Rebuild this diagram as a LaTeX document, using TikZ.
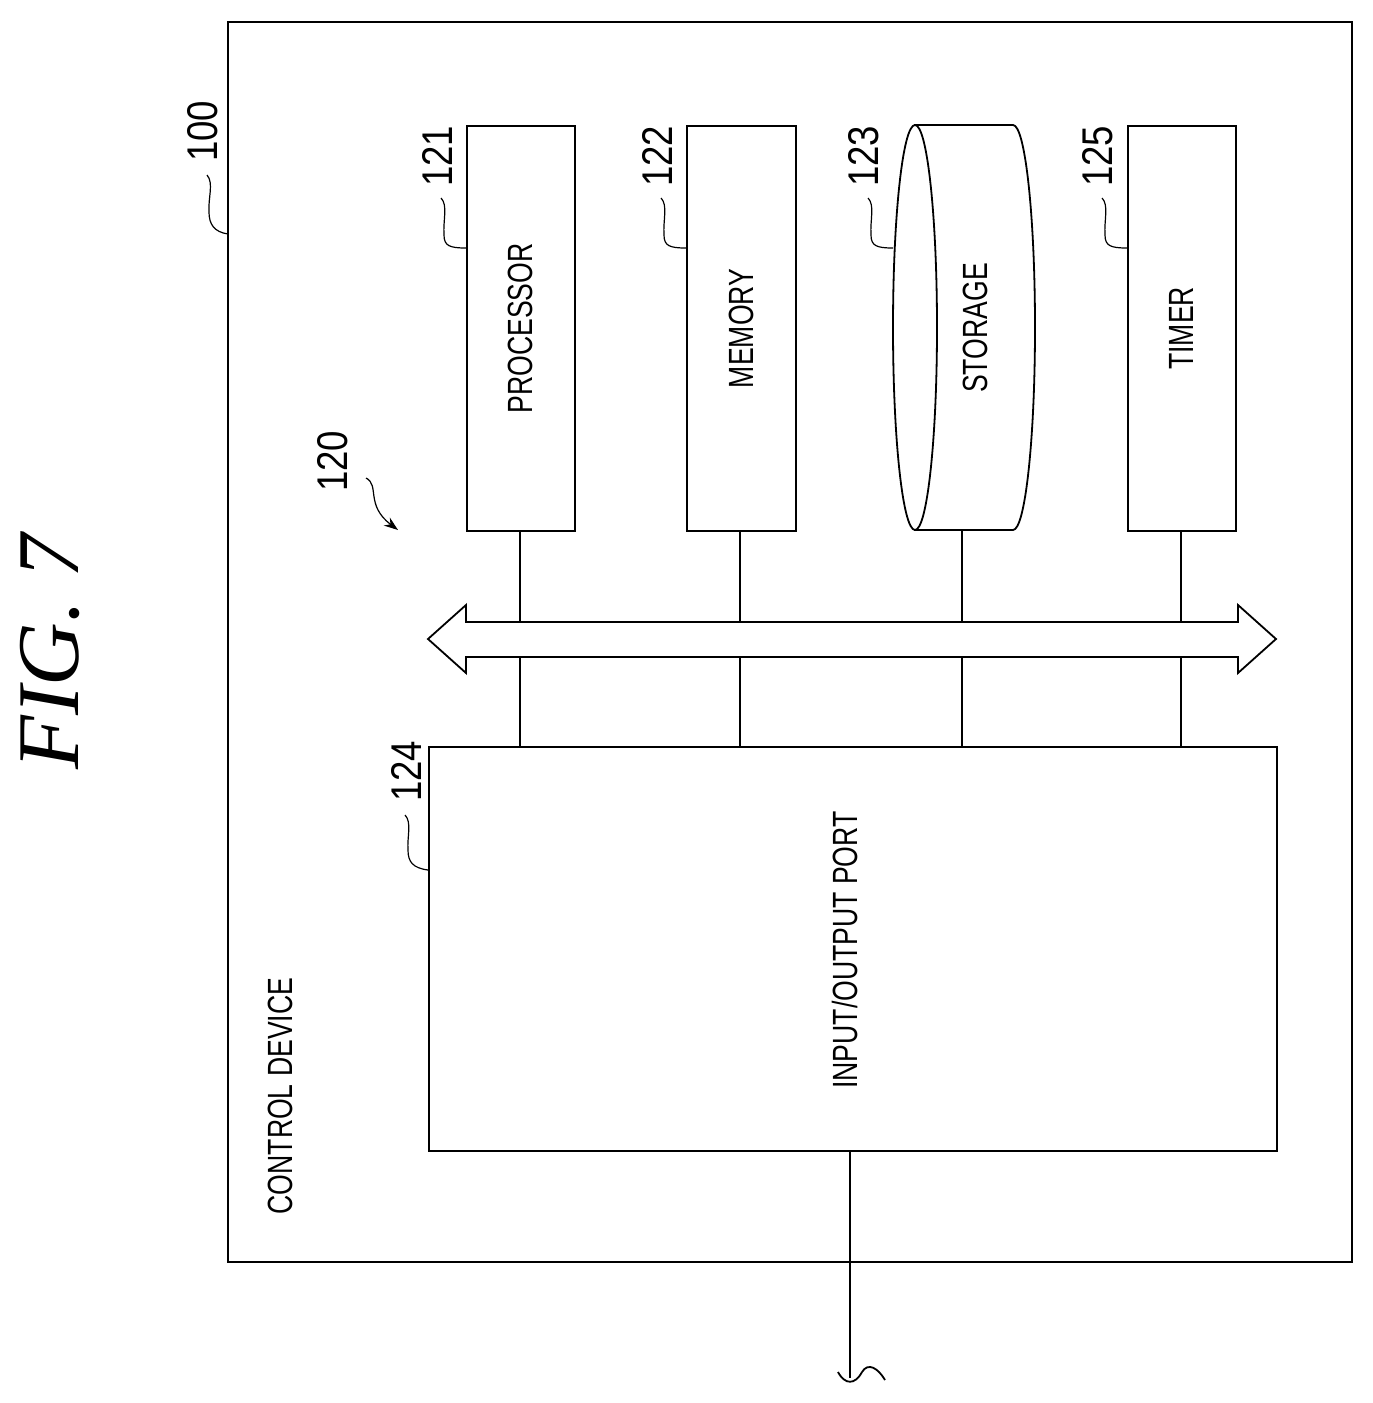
\documentclass[tikz,border=0pt]{standalone}
\usetikzlibrary{arrows.meta}
\usepackage{fontspec}
\setmainfont{Liberation Sans}
\newfontfamily\figfont{Liberation Serif}
\begin{document}
\begin{tikzpicture}[x=1pt,y=-1pt,line width=1.8pt,
  lbl/.style={rotate=90,font=\fontsize{35}{35}\selectfont,xscale=0.76,inner sep=0},
  num/.style={rotate=90,font=\fontsize{43}{43}\selectfont,xscale=0.85,inner sep=0},
  box/.style={draw,fill=white},
  sq/.style={line width=1.2pt}]
\useasboundingbox (0,0) rectangle (1373,1403);
\node[rotate=90,font=\figfont\itshape\fontsize{88}{88}\selectfont] (fig) at (50,652) {FIG. 7};
\draw (228,22) rectangle (1352,1262);
\node[num,anchor=east] (n100) at (203,100) {100};
\draw[sq] (207,175) .. controls (214,183) and (208,198) .. (209,212) .. controls (209,224) and (214,232) .. (228,234);
% boxes
\node[box,minimum width=108,minimum height=405,anchor=north west] (p) at (466,125) {};
\node[lbl] at (p) {PROCESSOR};
\node[box,minimum width=109,minimum height=405,anchor=north west] (m) at (686,125) {};
\node[lbl] at (m) {MEMORY};
\node[box,minimum width=108,minimum height=405,anchor=north west] (t) at (1127,125) {};
\node[lbl] at (t) {TIMER};
% storage cylinder
\draw[fill=white] (915,125) -- (1013,125) arc[start angle=-90,end angle=90,x radius=22,y radius=202.5] -- (915,530) -- cycle;
\draw[fill=white] (915,327.5) ellipse[x radius=22,y radius=202.5];
\node[lbl] (s) at (975,328) {STORAGE};
\coordinate (sb) at (962,530);
% numbers
\foreach \bx/\t in {466/121,686/122,893/123,1127/125}{
  \node[num,anchor=east] at (\bx-29,125) {\t};
  \draw[sq] (\bx-25,198) .. controls (\bx-18,205) and (\bx-23,220) .. (\bx-22,235) .. controls (\bx-22,246) and (\bx-16,248) .. (\bx,248);
}
\node[num,anchor=east] at (333,430) {120};
\draw[sq,-{Stealth[length=14pt,width=10pt]}] (366,478) .. controls (380,485) and (365,505) .. (398,530);
% IO box
\node[box,minimum width=848,minimum height=404,anchor=north west] (io) at (428,746) {};
\node[lbl] at (845,950) {INPUT/OUTPUT PORT};
\node[num,anchor=east] at (406,740) {124};
\draw[sq] (405,815) .. controls (412,822) and (407,837) .. (408,850) .. controls (408,862) and (413,868) .. (428,870);
\node[lbl,anchor=west] at (280,1215) {CONTROL DEVICE};
% verticals
\foreach \x in {520,740,1181}{
  \draw (\x,530) -- (\x,746);}
\draw (sb) -- (962,746);
% bus
\draw[fill=white] (428,639) -- (466,605) -- (466,622) -- (1238,622) -- (1238,605) -- (1276,639) -- (1238,673) -- (1238,657) -- (466,657) -- (466,673) -- cycle;
% output line
\draw (850,1150) -- (850,1378);
\draw (838,1372) .. controls (845,1385) and (855,1385) .. (862,1372);
\draw (862,1372) .. controls (868,1362) and (878,1368) .. (885,1380);
\end{tikzpicture}
\end{document}
